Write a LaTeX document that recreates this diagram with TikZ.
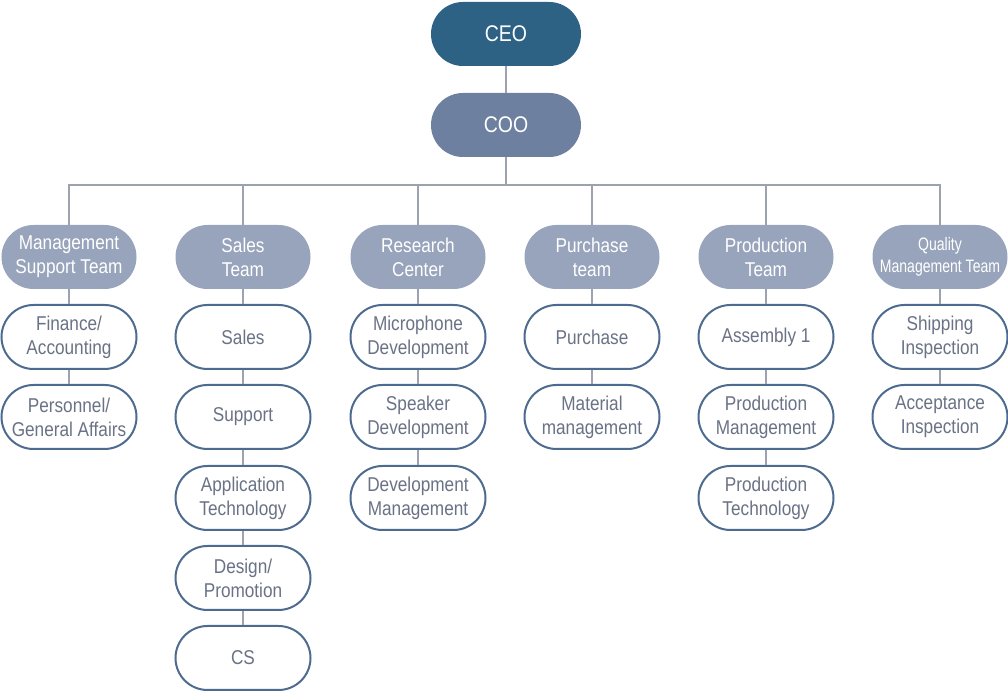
\documentclass[tikz,border=0pt]{standalone}
\usepackage{fontspec}
\setmainfont{Liberation Sans}[FakeStretch=0.86]
\usetikzlibrary{calc}
\definecolor{ceoblue}{HTML}{2D6285}
\definecolor{cooblue}{HTML}{6E80A0}
\definecolor{teamgray}{HTML}{98A4BC}
\definecolor{boxline}{HTML}{4D6B8F}
\definecolor{boxtext}{HTML}{6A7286}
\definecolor{linkgray}{HTML}{9CA2AE}
\tikzset{
  pill/.style={rectangle, rounded corners=24pt, minimum width=101.25pt,
    minimum height=48pt, align=center, inner sep=1pt,
    font=\fontsize{15}{18}\selectfont},
  boss/.style={pill, minimum width=112.5pt, fill=#1, text=white,
    font=\fontsize{17}{20}\selectfont},
  team/.style={pill, fill=teamgray, text=white},
  unit/.style={pill, draw=boxline, line width=1.5pt, fill=white, text=boxtext},
  link/.style={draw=linkgray, line width=0.9pt}
}
\begin{document}
\begin{tikzpicture}[x=0.75pt, y=-0.75pt]
			%%%%% START %%%%%
			\useasboundingbox (0, 0) rectangle (1008, 691);
			
			\node[boss=ceoblue] (ceo) at (506, 34) {CEO};
			\node[boss=cooblue] (coo) at (506, 125) {COO};
			\coordinate (bus) at (506, 185);
			
			\node[team] (mst) at (69, 257) {Management\\Support Team};
			\node[team] (sal) at (243, 257) {Sales\\Team};
			\node[team] (rsc) at (418, 257) {Research\\Center};
			\node[team] (pur) at (592, 257) {Purchase\\team};
			\node[team] (prd) at (766, 257) {Production\\Team};
			\node[team, font=\fontsize{13.5}{17}\selectfont\addfontfeature{FakeStretch=0.78}] (qmt) at (940, 257) {Quality\\Management Team};
			
			\node[unit] (fin) at (69, 337) {Finance/\\Accounting};
			\node[unit] (per) at (69, 417) {Personnel/\\General Affairs};
			
			\node[unit] (sls) at (243, 337) {Sales};
			\node[unit] (sup) at (243, 417) {Support};
			\node[unit] (apt) at (243, 498) {Application\\Technology};
			\node[unit] (dsg) at (243, 578) {Design/\\Promotion};
			\node[unit] (cs) at (243, 658) {CS};
			
			\node[unit] (mic) at (418, 337) {Microphone\\Development};
			\node[unit] (spk) at (418, 417) {Speaker\\Development};
			\node[unit] (dev) at (418, 498) {Development\\Management};
			
			\node[unit] (prc) at (592, 337) {Purchase};
			\node[unit] (mat) at (592, 417) {Material\\management};
			
			\node[unit] (asm) at (766, 337) {Assembly 1};
			\node[unit] (pmg) at (766, 417) {Production\\Management};
			\node[unit] (ptc) at (766, 498) {Production\\Technology};
			
			\node[unit] (shp) at (940, 337) {Shipping\\Inspection};
			\node[unit] (acc) at (940, 417) {Acceptance\\Inspection};
			
			% top of the tree
			\draw[link] (ceo) -- (coo);
			\draw[link] (coo) -- (bus);
			\draw[link] (mst.north) |- (bus) -| (qmt.north);
			\draw[link] (sal.north) -- (sal.north |- bus);
			\draw[link] (rsc.north) -- (rsc.north |- bus);
			\draw[link] (pur.north) -- (pur.north |- bus);
			\draw[link] (prd.north) -- (prd.north |- bus);
			
			% columns
			\draw[link] (mst) -- (fin) -- (per);
			\draw[link] (sal) -- (sls) -- (sup) -- (apt) -- (dsg) -- (cs);
			\draw[link] (rsc) -- (mic) -- (spk) -- (dev);
			\draw[link] (pur) -- (prc) -- (mat);
			\draw[link] (prd) -- (asm) -- (pmg) -- (ptc);
			\draw[link] (qmt) -- (shp) -- (acc);
			
			%%%%% END %%%%%
		\end{tikzpicture}
\end{document}
